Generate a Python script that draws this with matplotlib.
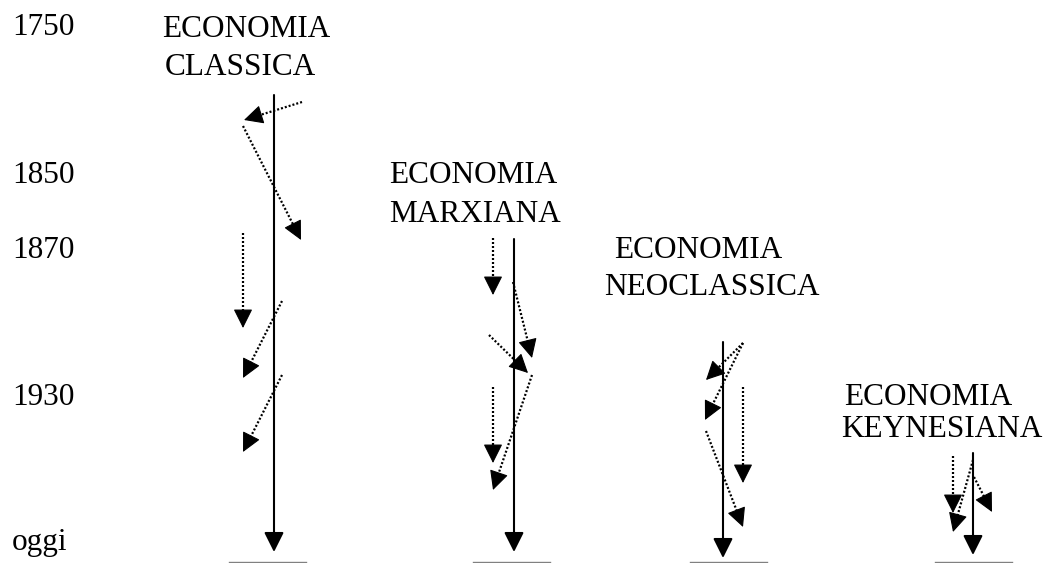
import matplotlib.pyplot as plt
from matplotlib.patches import ArrowStyle

# time labels on the left (text, baseline y in pixels)
years = ['1750', '1850', '1870', '1930', 'oggi']
year_base = [35, 183, 258, 405, 550]

# schools: title lines and positions
titles_1 = ['ECONOMIA', 'ECONOMIA', 'ECONOMIA', 'ECONOMIA']
titles_2 = ['CLASSICA', 'MARXIANA', 'NEOCLASSICA', 'KEYNESIANA']
title_x1 = [162, 389, 614, 844]
title_x2 = [165, 389, 604, 841]
title_base1 = [37, 183, 258, 405]
title_base2 = [75, 222, 295, 437]

# main timeline of each school
main_x = [274, 514, 723, 973]
main_top = [95, 239, 342, 453]
main_tip = [552, 552, 558, 555]
ground_x0 = [229, 473, 690, 935]
ground_w = 77
ground_y = 562

# dotted influence arrows (start x, start y, tip x, tip y)
dotted_classica = [(302, 102, 244, 120), (243, 126, 301, 240), (243, 233, 243, 328),
                   (282, 301, 243, 378), (282, 375, 243, 452)]
dotted_marxiana = [(493, 238, 493, 295), (513, 282, 532, 358), (489, 335, 528, 373),
                   (532, 375, 493, 490), (493, 387, 493, 463)]
dotted_neoclassica = [(743, 343, 706, 380), (743, 343, 705, 420), (743, 387, 743, 483),
                      (706, 431, 743, 527)]
dotted_keynesiana = [(953, 456, 953, 513), (973, 460, 953, 532), (974, 477, 992, 512)]
dotted_all = dotted_classica + dotted_marxiana + dotted_neoclassica + dotted_keynesiana

fig = plt.figure(figsize=(10.49, 5.63), dpi=100)
ax = fig.add_axes([0, 0, 1, 1])
ax.set_xlim(0, 1049)
ax.set_ylim(563, 0)
ax.axis('off')

font = dict(family='Liberation Serif', fontsize=22.5, color='black', va='baseline', ha='left')

for lab, yb in zip(years, year_base):
    ax.text(12, yb, lab, **font)

for t1, t2, x1, x2, b1, b2 in zip(titles_1, titles_2, title_x1, title_x2, title_base1, title_base2):
    ax.text(x1, b1, t1, **font)
    ax.text(x2, b2, t2, **font)

head = ArrowStyle('-|>', head_length=1.2, head_width=0.6)

for x, top, tip in zip(main_x, main_top, main_tip):
    ax.annotate('', xy=(x, tip), xytext=(x, top),
                arrowprops=dict(arrowstyle=head, mutation_scale=10, lw=1.5,
                                color='black', shrinkA=0, shrinkB=0))

for x0 in ground_x0:
    ax.plot([x0, x0 + ground_w], [ground_y, ground_y], color='#808080', lw=1)

for x0, y0, x1, y1 in dotted_all:
    # dotted shaft ending at the base of the head
    dx, dy = x1 - x0, y1 - y0
    n = (dx ** 2 + dy ** 2) ** 0.5
    ux, uy = dx / n, dy / n
    ax.plot([x0, x1 - ux * 12], [y0, y1 - uy * 12], color='black', lw=1.6,
            linestyle=(0, (0.9, 0.9)), dash_capstyle='butt')
    # solid head
    ax.annotate('', xy=(x1, y1), xytext=(x1 - ux * 14, y1 - uy * 14),
                arrowprops=dict(arrowstyle=head, mutation_scale=10, lw=0.8,
                                color='black', shrinkA=0, shrinkB=0))

fig.savefig('out.png', dpi=100, facecolor='white')
